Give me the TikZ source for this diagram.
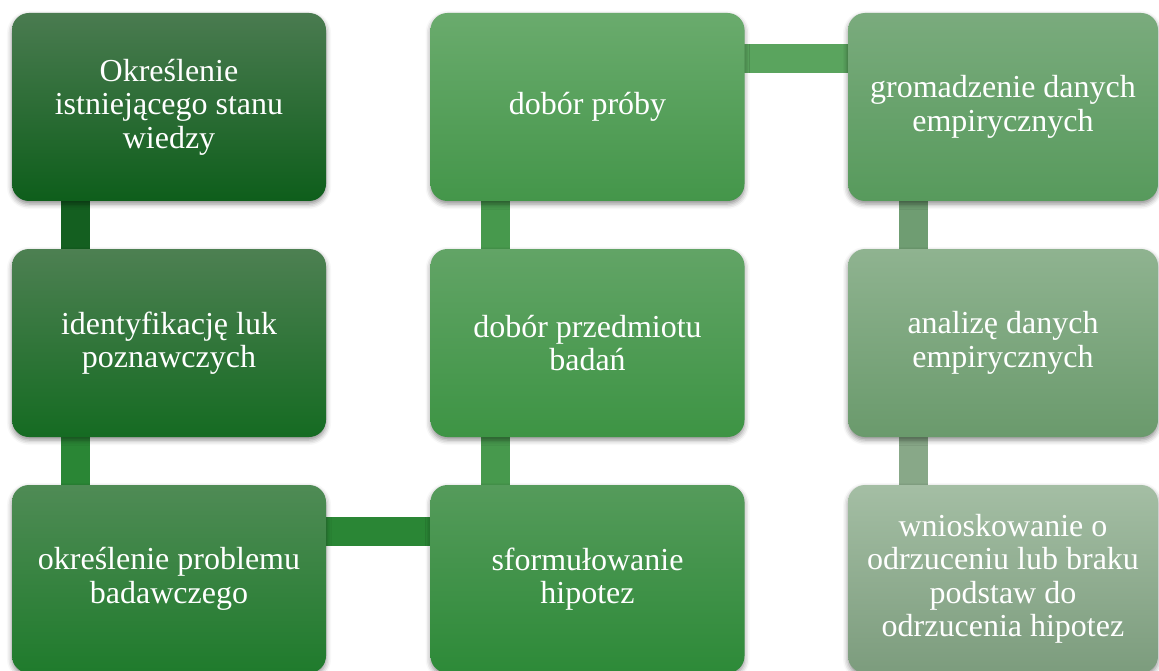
\documentclass[tikz,border=0pt]{standalone}
\usepackage{fontspec}
\setmainfont{Liberation Serif}
\usetikzlibrary{calc,shadows.blur}
\definecolor{cA1}{HTML}{4A7B50}\definecolor{cA2}{HTML}{0E5E1B}
\definecolor{cB1}{HTML}{4D8052}\definecolor{cB2}{HTML}{156B22}
\definecolor{cC1}{HTML}{4F8B55}\definecolor{cC2}{HTML}{1F7B2C}
\definecolor{cD1}{HTML}{559B5B}\definecolor{cD2}{HTML}{2D8A38}
\definecolor{cE1}{HTML}{62A466}\definecolor{cE2}{HTML}{3D9444}
\definecolor{cF1}{HTML}{6AAB6D}\definecolor{cF2}{HTML}{44964A}
\definecolor{cG1}{HTML}{7AAB7D}\definecolor{cG2}{HTML}{579A5C}
\definecolor{cH1}{HTML}{8FB390}\definecolor{cH2}{HTML}{6A9A6C}
\definecolor{cI1}{HTML}{A4BEA4}\definecolor{cI2}{HTML}{7C9C7D}
\definecolor{lA}{HTML}{145F20}\definecolor{lB}{HTML}{2A8635}
\definecolor{lC}{HTML}{47994D}\definecolor{lD}{HTML}{5AA45E}
\definecolor{lE}{HTML}{6F9D72}\definecolor{lF}{HTML}{88A888}
\pgfdeclarelayer{bg}\pgfsetlayers{bg,main}
\tikzset{
  stepbox/.style 2 args={draw=none, rounded corners=17pt, minimum width=314pt,
    minimum height=188pt, align=center, text=white,
    font=\fontsize{32}{33.5}\selectfont, top color=#1, bottom color=#2,
    blur shadow={shadow xshift=0pt, shadow yshift=-3pt, shadow blur radius=5pt, shadow opacity=45}},
  bar/.style={line width=29pt, draw=#1}
}
\begin{document}
\begin{tikzpicture}[x=1pt,y=-1pt]
\useasboundingbox (0,0) rectangle (1159,671);
\clip (0,0) rectangle (1159,671);
% boxes, column by column
\node[stepbox={cA1}{cA2}] (s1) at (169,107) {Określenie\\istniejącego stanu\\wiedzy};
\node[stepbox={cB1}{cB2}] (s2) at (169,343) {identyfikację luk\\poznawczych};
\node[stepbox={cC1}{cC2}] (s3) at (169,579) {określenie problemu\\badawczego};
\node[stepbox={cD1}{cD2}] (s4) at (587.5,579) {sformułowanie\\hipotez};
\node[stepbox={cE1}{cE2}] (s5) at (587.5,343) {dobór przedmiotu\\badań};
\node[stepbox={cF1}{cF2}] (s6) at (587.5,107) {dobór próby};
\node[stepbox={cG1}{cG2}, minimum width=310pt] (s7) at (1003,107) {gromadzenie danych\\empirycznych};
\node[stepbox={cH1}{cH2}, minimum width=310pt] (s8) at (1003,343) {analizę danych\\empirycznych};
\node[stepbox={cI1}{cI2}, minimum width=310pt] (s9) at (1003,579) {wnioskowanie o\\odrzuceniu lub braku\\podstaw do\\odrzucenia hipotez};
% connecting bars, drawn behind the boxes
\begin{pgfonlayer}{bg}
\draw[bar=lA] ($(s1.south west)+(63.5,-2)$) -- ($(s2.north west)+(63.5,2)$);
\draw[bar=lB] ($(s2.south west)+(63.5,-2)$) -- ($(s3.north west)+(63.5,2)$);
\draw[bar=lB] ($(s3.north east)+(-2,46.5)$) -- ($(s4.north west)+(2,46.5)$);
\draw[bar=lC] ($(s4.north west)+(65,2)$) -- ($(s5.south west)+(65,-2)$);
\draw[bar=lC] ($(s5.north west)+(65,2)$) -- ($(s6.south west)+(65,-2)$);
\draw[bar=lD] ($(s6.north east)+(-2,46)$) -- ($(s7.north west)+(2,46)$);
\draw[bar=lE] ($(s7.south west)+(65.5,-2)$) -- ($(s8.north west)+(65.5,2)$);
\draw[bar=lF] ($(s8.south west)+(65.5,-2)$) -- ($(s9.north west)+(65.5,2)$);
\end{pgfonlayer}
\end{tikzpicture}
\end{document}
